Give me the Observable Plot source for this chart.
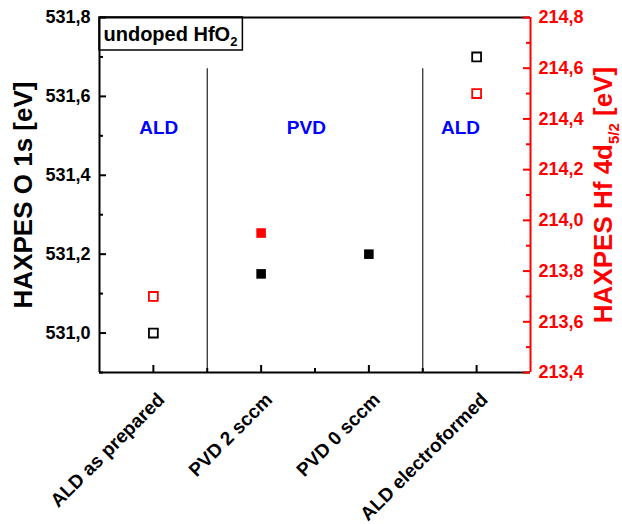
<!DOCTYPE html>
<html>
<head>
<meta charset="utf-8">
<script src="https://cdn.jsdelivr.net/npm/d3@7"></script>
<script src="https://cdn.jsdelivr.net/npm/@observablehq/plot@0.6"></script>
<style>
  html, body { margin: 0; padding: 0; background: #fff; }
  svg { display: block; }
</style>
</head>
<body>
<div id="chart"></div>
<script>
// ---- data ----
const categories = ["ALD as prepared", "PVD 2 sccm", "PVD 0 sccm", "ALD electroformed"];
const o1s = [531.0, 531.15, 531.2, 531.7];          // left axis, black
const hf4d = [213.7, 213.95, null, 214.5];           // right axis, red
const filled = [false, true, true, false];
const leftTicks = [531.0, 531.2, 531.4, 531.6, 531.8];
const leftMinor = [530.9, 531.1, 531.3, 531.5, 531.7];
const rightTicks = [213.4, 213.6, 213.8, 214.0, 214.2, 214.4, 214.6, 214.8];
const rightMinor = [213.5, 213.7, 213.9, 214.1, 214.3, 214.5, 214.7];
const groupLabels = ["ALD", "PVD", "ALD"];
const groupPos = [1.05, 2.42, 3.85];
const separators = [1.5, 3.5];

// ---- scales ----
const leftDomain = [530.9, 531.8];
const rightDomain = [213.4, 214.8];
const toLeft = v => leftDomain[0] + (v - rightDomain[0]) * (leftDomain[1] - leftDomain[0]) / (rightDomain[1] - rightDomain[0]);
const fmt = v => d3.format(".1f")(v).replace(".", ",");

const W = 622, H = 524, mL = 99, mR = 92, mT = 17, mB = 152;
const fw = W - mL - mR, fh = H - mT - mB;
const font = "'Liberation Sans', Arial, sans-serif";
const RED = "#ff0000", BLUE = "#0000ff";

const pts = categories.map((c, i) => ({i: i + 1, c, o: o1s[i], h: hf4d[i], f: filled[i]}));

const chart = Plot.plot({
  width: W, height: H,
  marginLeft: mL, marginRight: mR, marginTop: mT, marginBottom: mB,
  style: {fontFamily: font, fontWeight: "bold", background: "#fff", overflow: "visible"},
  x: {type: "linear", domain: [0.5, 4.5], axis: null},
  y: {domain: leftDomain, axis: null},
  marks: [
    // separators
    Plot.ruleX(separators, {x: d => d, y1: 531.67, y2: leftDomain[0], stroke: "#222", strokeWidth: 1.2}),
    // frame lines
    Plot.ruleY([leftDomain[1]], {stroke: "#000", strokeWidth: 2}),
    Plot.ruleY([leftDomain[0]], {stroke: "#000", strokeWidth: 2}),
    Plot.ruleX([0.5], {stroke: "#000", strokeWidth: 2}),
    Plot.ruleX([4.5], {stroke: RED, strokeWidth: 2}),
    // left ticks
    Plot.tickY(leftTicks, {y: d => d, insetRight: fw - 7, stroke: "#000", strokeWidth: 2}),
    Plot.tickY(leftMinor, {y: d => d, insetRight: fw - 4, stroke: "#000", strokeWidth: 2}),
    // right ticks
    Plot.tickY(rightTicks, {y: d => toLeft(d), insetLeft: fw - 7, stroke: RED, strokeWidth: 2}),
    Plot.tickY(rightMinor, {y: d => toLeft(d), insetLeft: fw - 4, stroke: RED, strokeWidth: 2}),
    // bottom ticks
    Plot.tickX([1, 2, 3, 4], {x: d => d, insetTop: fh - 7, stroke: "#000", strokeWidth: 2}),
    Plot.tickX([1.5, 2.5, 3.5], {x: d => d, insetTop: fh - 4, stroke: "#000", strokeWidth: 2}),
    // left tick labels
    Plot.text(leftTicks, {y: d => d, frameAnchor: "left", dx: -9, textAnchor: "end", text: fmt, fontSize: 18, fill: "#000"}),
    // right tick labels
    Plot.text(rightTicks, {y: d => toLeft(d), frameAnchor: "right", dx: 8, textAnchor: "start", text: fmt, fontSize: 18, fill: RED}),
    // x tick labels
    Plot.text(categories, {x: (d, i) => i + 1, frameAnchor: "bottom", dx: 8, dy: 24, rotate: -45, textAnchor: "end", lineAnchor: "middle", text: d => d, fontSize: 19, fill: "#000"}),
    // axis titles
    Plot.text(["HAXPES O 1s [eV]"], {frameAnchor: "left", dx: -76, rotate: -90, text: d => d, fontSize: 26, fill: "#000", textAnchor: "middle", lineAnchor: "middle"}),
    Plot.text(["HAXPES Hf 4d5/2 [eV]"], {frameAnchor: "right", dx: 73, rotate: -90, text: d => d, fontSize: 26, fill: RED, textAnchor: "middle", lineAnchor: "middle"}),
    // group labels
    Plot.text(groupLabels, {x: (d, i) => groupPos[i], y: 531.52, text: d => d, fontSize: 19, fill: BLUE}),
    // inset title
    Plot.text(["undoped HfO2"], {frameAnchor: "top-left", dx: 4, dy: 9, text: d => d, fontSize: 20, fill: "#000", textAnchor: "start", lineAnchor: "top"}),
    // data: O 1s (black)
    Plot.dot(pts.filter(d => !d.f), {x: "i", y: "o", symbol: "square", r: 5, fill: "none", stroke: "#000", strokeWidth: 1.8}),
    Plot.dot(pts.filter(d => d.f), {x: "i", y: "o", symbol: "square", r: 5.4, fill: "#000", stroke: "none"}),
    // data: Hf 4d (red)
    Plot.dot(pts.filter(d => d.h != null && !d.f), {x: "i", y: d => toLeft(d.h), symbol: "square", r: 5, fill: "none", stroke: RED, strokeWidth: 1.8}),
    Plot.dot(pts.filter(d => d.h != null && d.f), {x: "i", y: d => toLeft(d.h), symbol: "square", r: 5.4, fill: RED, stroke: "none"})
  ]
});

document.getElementById("chart").append(chart);

// subscripts and inset box
const svg = d3.select(chart);
const svgRect = chart.getBoundingClientRect();
svg.selectAll("text").each(function() {
  const t = d3.select(this);
  const s = this.textContent;
  if (s === "undoped HfO2") {
    t.text(null);
    t.append("tspan").text("undoped HfO");
    t.append("tspan").attr("dy", 5).attr("font-size", 13).text("2");
    const bb = this.getBoundingClientRect();
    const right = bb.right - svgRect.left;
    svg.insert("rect", ":first-child")
      .attr("x", mL).attr("y", mT)
      .attr("width", right + 5 - mL)
      .attr("height", 33)
      .attr("fill", "#fff").attr("stroke", "#000").attr("stroke-width", 1.5);
  } else if (s === "HAXPES Hf 4d5/2 [eV]") {
    t.text(null);
    t.append("tspan").text("HAXPES Hf 4d");
    t.append("tspan").attr("dy", 7).attr("font-size", 15).text("5/2");
    t.append("tspan").attr("dy", -7).text(" [eV]");
  }
});
</script>
</body>
</html>
